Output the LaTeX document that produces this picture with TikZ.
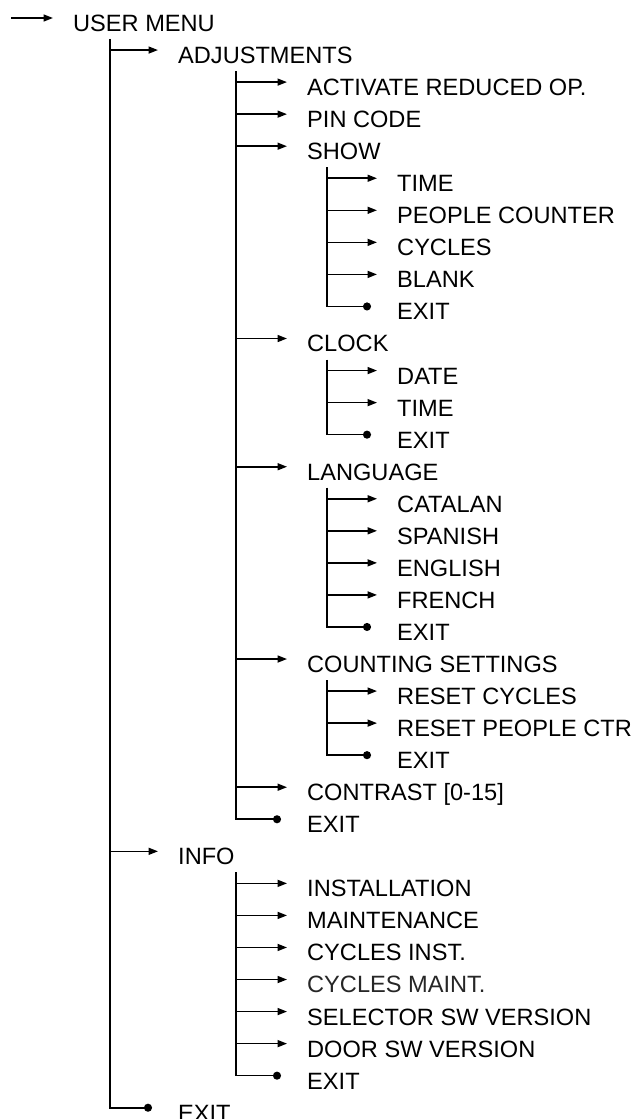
\documentclass[tikz,border=0pt]{standalone}
\usepackage{fontspec}
\setmainfont{Liberation Sans}
\usepackage{tikz}
\usetikzlibrary{arrows.meta}

\tikzset{
  entry/.style={anchor=west,inner sep=0pt,text height=16.9pt,text depth=0pt,
    font=\fontsize{23.6pt}{28pt}\selectfont},
  link/.style={line width=1.6pt,-{Triangle[length=9.5pt,width=7pt]}},
  quit/.style={line width=1.6pt,-{Circle[length=8pt]}},
}

\begin{document}
\begin{tikzpicture}[x=1pt,y=-32.05pt]
\useasboundingbox (0,0.2824) rectangle (637,35.196);
\coordinate (start) at (11,1);
\coordinate (t1) at (110,0);
\coordinate (t2) at (236,0);
\coordinate (t3) at (327,0);
% menu entries, one row each
\node[entry] (n1) at (73,1) {USER MENU};
\foreach \r/\t in {2/ADJUSTMENTS,27/INFO,35/EXIT}
  \node[entry] (n\r) at (178,\r) {\t};
\foreach \r/\t in {3/ACTIVATE REDUCED OP.,4/PIN CODE,5/SHOW,11/CLOCK,15/LANGUAGE,
    21/COUNTING SETTINGS,25/{CONTRAST [0-15]},26/EXIT,28/INSTALLATION,29/MAINTENANCE,
    30/CYCLES INST.,32/SELECTOR SW VERSION,33/DOOR SW VERSION,34/EXIT}
  \node[entry] (n\r) at (307,\r) {\t};
\node[entry,text=black!85] (n31) at (307,31) {CYCLES MAINT.};
\foreach \r/\t in {6/TIME,7/PEOPLE COUNTER,8/CYCLES,9/BLANK,10/EXIT,12/DATE,13/TIME,14/EXIT,
    16/CATALAN,17/SPANISH,18/ENGLISH,19/FRENCH,20/EXIT,22/RESET CYCLES,23/RESET PEOPLE CTR,24/EXIT}
  \node[entry] (n\r) at (397,\r) {\t};
% branches
\draw[link] ([yshift=5pt]start) -- ([xshift=-20pt,yshift=5pt]n1.west);
\foreach \p/\q/\x in {1/35/t1,2/26/t2,27/34/t2,5/10/t3,11/14/t3,15/20/t3,21/24/t3}
  \draw[quit] ([yshift=-16pt]n\p.west -| \x) |- ([xshift=-26pt,yshift=5pt]n\q.west);
\foreach \r/\x in {2/t1,27/t1,3/t2,4/t2,5/t2,11/t2,15/t2,21/t2,25/t2,28/t2,29/t2,30/t2,31/t2,32/t2,33/t2,
    6/t3,7/t3,8/t3,9/t3,12/t3,13/t3,16/t3,17/t3,18/t3,19/t3,22/t3,23/t3}
  \draw[link] ([yshift=5pt]n\r.west -| \x) -- ([xshift=-20pt,yshift=5pt]n\r.west);
\end{tikzpicture}
\end{document}
